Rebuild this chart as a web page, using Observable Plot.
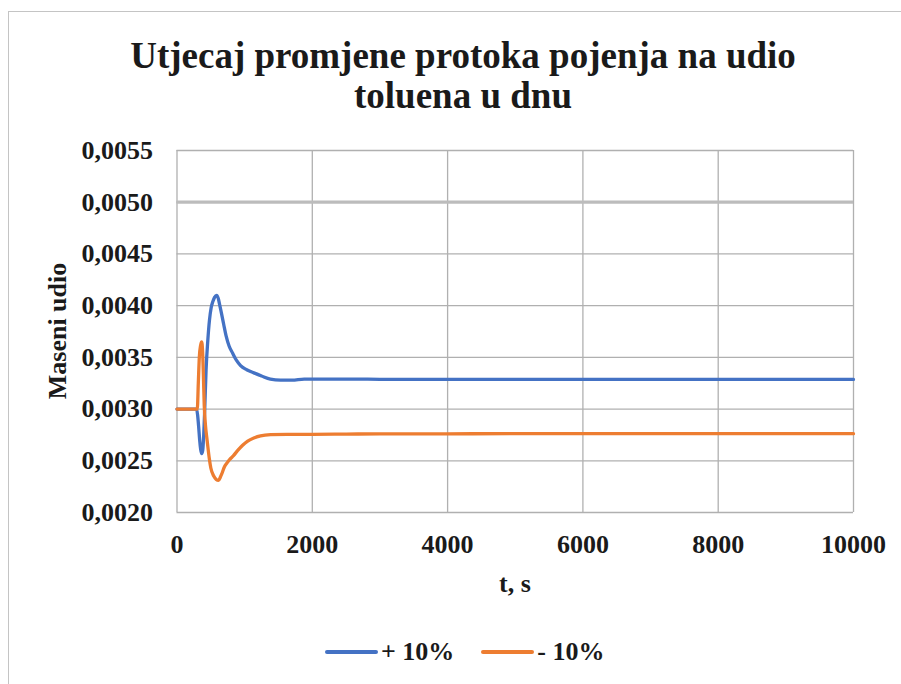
<!DOCTYPE html>
<html>
<head>
<meta charset="utf-8">
<script src="https://cdn.jsdelivr.net/npm/d3@7"></script>
<script src="https://cdn.jsdelivr.net/npm/@observablehq/plot@0.6"></script>
<style>
  html, body { margin: 0; padding: 0; background: #fff; }
  #wrap { position: relative; width: 901px; height: 684px; overflow: hidden; font-family: "Liberation Serif", "Times New Roman", serif; font-weight: bold; color: #1a1a1a; }
  .abs { position: absolute; white-space: nowrap; }
</style>
</head>
<body>
<div id="wrap">
  <div class="abs" style="left:8px;top:11px;width:893px;height:0;border-top:1.5px solid #c4c4c4;"></div>
  <div class="abs" style="left:8px;top:11px;width:0;height:673px;border-left:1.5px solid #c4c4c4;"></div>
  <div class="abs" id="title" style="left:463px;top:36px;transform:translateX(-50%);text-align:center;font-size:37px;line-height:40px;">Utjecaj promjene protoka pojenja na udio<br>toluena u dnu</div>
  <div class="abs" id="plot" style="left:0;top:130px;"></div>
  <div class="abs" style="left:58px;top:331px;transform:translate(-50%,-50%) rotate(-90deg);font-size:26px;">Maseni udio</div>
  <div class="abs" style="left:515px;top:584px;transform:translate(-50%,-50%);font-size:26px;">t, s</div>
  <div class="abs" id="legend" style="left:325px;top:636px;font-size:26px;line-height:32px;display:flex;align-items:center;"></div>
</div>
<script>
// ---- data ----
const seriesNames = ["+ 10%", "- 10%"];
const seriesColors = ["#4472C4", "#ED7D31"];

const plusT = [0, 290, 305, 320, 335, 350, 365, 380, 395, 410, 430, 455, 480, 505, 530, 555, 585, 610, 630, 650, 690, 725, 770, 823, 880, 940, 1030, 1135, 1250, 1380, 1530, 1700, 1880, 2200, 2600, 3000, 4000, 5000, 6000, 7000, 8000, 9000, 10000];
const plusV = [0.00300, 0.00300, 0.00294, 0.00283, 0.00270, 0.00261, 0.00257, 0.00260, 0.00275, 0.00300, 0.00338, 0.00366, 0.00386, 0.00398, 0.00404, 0.00408, 0.00410, 0.00407, 0.00401, 0.00395, 0.00382, 0.00371, 0.00361, 0.00354, 0.00347, 0.00342, 0.00338, 0.00335, 0.00332, 0.00329, 0.00328, 0.00328, 0.00329, 0.00329, 0.00329, 0.003288, 0.003287, 0.003287, 0.003287, 0.003287, 0.003287, 0.003287, 0.003287];

const minusT = [0, 300, 315, 330, 350, 365, 378, 390, 403, 420, 445, 478, 500, 545, 580, 615, 640, 660, 700, 740, 775, 835, 898, 970, 1045, 1135, 1235, 1383, 1630, 2000, 2500, 3000, 4000, 5000, 6000, 7000, 8000, 9000, 10000];
const minusV = [0.00300, 0.00300, 0.00325, 0.00350, 0.00362, 0.00365, 0.00356, 0.00333, 0.00303, 0.00285, 0.00270, 0.00252, 0.00243, 0.00235, 0.00232, 0.00231, 0.00234, 0.00237, 0.00244, 0.00248, 0.00251, 0.00255, 0.00260, 0.00265, 0.00269, 0.00272, 0.00274, 0.002752, 0.002756, 0.002756, 0.002758, 0.00276, 0.002761, 0.002762, 0.002762, 0.002762, 0.002762, 0.002762, 0.002762];

const referenceLevel = [0.0050];
const xTicks = [0, 2000, 4000, 6000, 8000, 10000];
const yTicks = [0.0020, 0.0025, 0.0030, 0.0035, 0.0040, 0.0045, 0.0050, 0.0055];

// ---- build table ----
const rows = [];
plusT.forEach((t, i) => rows.push({t, v: plusV[i], s: seriesNames[0]}));
minusT.forEach((t, i) => rows.push({t, v: minusV[i], s: seriesNames[1]}));

const fmtY = d => d3.format(".4f")(d).replace(".", ",");

const chart = Plot.plot({
  width: 901,
  height: 470,
  marginTop: 20,
  marginBottom: 88,
  marginLeft: 176.5,
  marginRight: 48,
  style: { fontFamily: "'Liberation Serif', 'Times New Roman', serif", fontSize: "26px", fontWeight: "bold", color: "#1a1a1a", background: "transparent" },
  x: { domain: [0, 10000] },
  y: { domain: [0.0020, 0.0055] },
  color: { domain: seriesNames, range: seriesColors },
  marks: [
    Plot.gridY(yTicks, { stroke: "#b0b0b0", strokeOpacity: 1, strokeWidth: 1.3 }),
    Plot.gridX(xTicks, { stroke: "#b0b0b0", strokeOpacity: 1, strokeWidth: 1.3 }),
    Plot.ruleY(referenceLevel, { stroke: "#bcbcbc", strokeWidth: 3.2 }),
    Plot.axisY(yTicks, { tickFormat: fmtY, tickSize: 0, tickPadding: 24, label: null, fill: "#1a1a1a" }),
    Plot.axisX(xTicks, { tickFormat: d => String(d), tickSize: 0, tickPadding: 22, label: null, fill: "#1a1a1a" }),
    Plot.line(rows.filter(r => r.s === seriesNames[0]), { x: "t", y: "v", stroke: "s", strokeWidth: 3.3, curve: "monotone-x" }),
    Plot.line(rows.filter(r => r.s === seriesNames[1]), { x: "t", y: "v", stroke: "s", strokeWidth: 3.3, curve: "monotone-x" })
  ]
});
document.getElementById("plot").appendChild(chart);

// ---- legend ----
const leg = document.getElementById("legend");
seriesNames.forEach((name, i) => {
  const item = document.createElement("div");
  item.style.display = "flex";
  item.style.alignItems = "center";
  item.style.marginRight = i === 0 ? "27px" : "0";
  const sw = document.createElement("div");
  sw.style.width = "53px";
  sw.style.height = "4px";
  sw.style.borderRadius = "2px";
  sw.style.background = seriesColors[i];
  sw.style.marginRight = "3px";
  const tx = document.createElement("span");
  tx.textContent = name;
  item.appendChild(sw);
  item.appendChild(tx);
  leg.appendChild(item);
});
</script>
</body>
</html>
